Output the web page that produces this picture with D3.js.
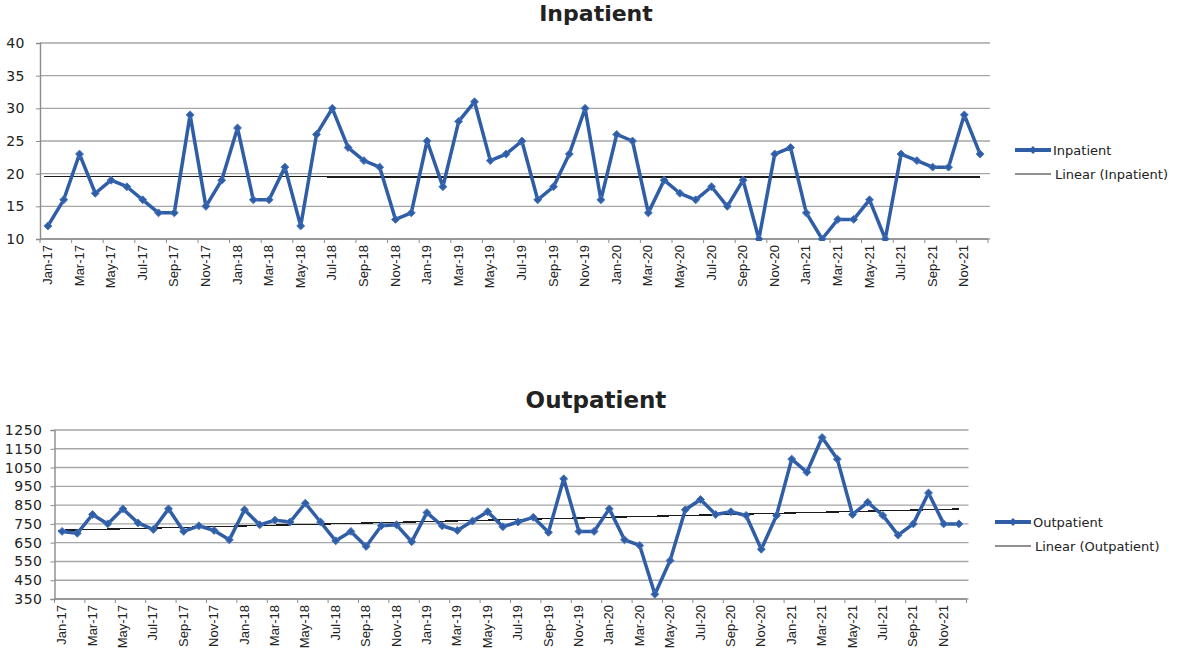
<!DOCTYPE html>
<html>
<head>
<meta charset="utf-8">
<script src="https://cdn.jsdelivr.net/npm/d3@7"></script>
<style>
  body { margin: 0; background: #fff; }
  svg text { fill: #222; }
  .tick-y { font-family: "DejaVu Sans", Verdana, sans-serif; font-size: 14px; letter-spacing: 0.5px; }
  .tick-x { font-family: "Liberation Sans Narrow", "Liberation Sans", Arial, sans-serif; font-size: 13px; }
  .title { font-family: "DejaVu Sans", Verdana, sans-serif; font-weight: bold; }
  .legend-text { font-family: "DejaVu Sans", Verdana, sans-serif; font-size: 13px; }
</style>
</head>
<body>
<div id="chart"></div>
<script>
// Months Jan-17 .. Dec-21
const monthNames = ["Jan", "Feb", "Mar", "Apr", "May", "Jun", "Jul", "Aug", "Sep", "Oct", "Nov", "Dec"];
const years = ["17", "18", "19", "20", "21"];
const months = [];
years.forEach((y) => monthNames.forEach((m) => months.push(`${m}-${y}`)));

const inpatient = [
  12, 16, 23, 17, 19, 18, 16, 14, 14, 29, 15, 19,
  27, 16, 16, 21, 12, 26, 30, 24, 22, 21, 13, 14,
  25, 18, 28, 31, 22, 23, 25, 16, 18, 23, 30, 16,
  26, 25, 14, 19, 17, 16, 18, 15, 19, 10, 23, 24,
  14, 10, 13, 13, 16, 10, 23, 22, 21, 21, 29, 23
];

const outpatient = [
  710, 700, 800, 750, 830, 755, 720, 830, 710, 740, 715, 665,
  825, 745, 770, 760, 860, 760, 660, 710, 630, 740, 745, 655,
  810, 740, 715, 765, 815, 735, 760, 785, 705, 990, 710, 710,
  830, 665, 635, 375, 555, 825, 880, 800, 815, 795, 615, 795,
  1095, 1025, 1210, 1095, 800, 865, 795, 690, 750, 915, 750, 750
];

const inpatientTicks = [10, 15, 20, 25, 30, 35, 40];
const outpatientTicks = [350, 450, 550, 650, 750, 850, 950, 1050, 1150, 1250];

const lineColor = "#2f5da6";

const svg = d3.select("#chart").append("svg")
  .attr("width", 1182)
  .attr("height", 650);

// least squares trend
function linearFit(values) {
  const n = values.length;
  const xs = d3.range(n);
  const mx = d3.mean(xs), my = d3.mean(values);
  let sxy = 0, sxx = 0;
  xs.forEach((x, i) => { sxy += (x - mx) * (values[i] - my); sxx += (x - mx) * (x - mx); });
  const b = sxy / sxx;
  const a = my - b * mx;
  return (i) => a + b * i;
}

function drawChart(opts) {
  const { title, values, ticks, left, right, top, bottom, titleY, titleSize, labelPad, legendX, legendY, name } = opts;

  const x = d3.scaleBand().domain(months).range([left, right]).padding(0);
  const y = d3.scaleLinear().domain([ticks[0], ticks[ticks.length - 1]]).range([bottom, top]);
  const cx = (m) => x(m) + x.bandwidth() / 2;

  const g = svg.append("g");

  // title
  g.append("text")
    .attr("class", "title")
    .attr("x", 596)
    .attr("y", titleY)
    .attr("text-anchor", "middle")
    .style("font-size", titleSize + "px")
    .text(title);

  // gridlines
  g.selectAll(".grid")
    .data(ticks)
    .enter()
    .append("line")
    .attr("x1", left)
    .attr("x2", right + 2)
    .attr("y1", (d) => y(d))
    .attr("y2", (d) => y(d))
    .attr("stroke", "#a6a6a6")
    .attr("stroke-width", 1.4);

  // y axis
  const yAxis = g.append("g")
    .attr("transform", `translate(${left},0)`)
    .call(d3.axisLeft(y).tickValues(ticks).tickFormat(d3.format("d")).tickSize(4).tickPadding(labelPad));
  yAxis.select(".domain").attr("stroke", "#8c8c8c").attr("stroke-width", 1.4);
  yAxis.selectAll(".tick line").attr("stroke", "#8c8c8c");
  yAxis.selectAll("text").attr("class", "tick-y").attr("fill", "#222");

  // x axis: ticks every 2 months at category boundaries, labels on categories
  const xg = g.append("g");
  xg.append("line")
    .attr("x1", left).attr("x2", right)
    .attr("y1", bottom).attr("y2", bottom)
    .attr("stroke", "#8c8c8c").attr("stroke-width", 1.4);
  const tickMonths = months.filter((d, i) => i % 2 === 0);
  xg.selectAll(".xt")
    .data(tickMonths.concat(["end"]))
    .enter()
    .append("line")
    .attr("x1", (d) => (d === "end" ? right : x(d)))
    .attr("x2", (d) => (d === "end" ? right : x(d)))
    .attr("y1", bottom)
    .attr("y2", bottom + 4)
    .attr("stroke", "#8c8c8c");
  xg.selectAll(".xl")
    .data(tickMonths)
    .enter()
    .append("text")
    .attr("class", "tick-x")
    .attr("transform", (d) => `translate(${cx(d) + 4},${bottom + 6}) rotate(-90)`)
    .attr("text-anchor", "end")
    .text((d) => d);

  // trend line
  const fit = linearFit(values);
  g.append("line")
    .attr("x1", cx(months[0]) - 4)
    .attr("x2", cx(months[months.length - 1]))
    .attr("y1", y(fit(0)))
    .attr("y2", y(fit(values.length - 1)))
    .attr("stroke", "#1a1a1a")
    .attr("stroke-width", 1.3)
    .attr("shape-rendering", "crispEdges");

  // series line
  const clipId = "clip-" + name;
  g.append("clipPath").attr("id", clipId)
    .append("rect")
    .attr("x", left).attr("y", top - 10)
    .attr("width", right - left + 10).attr("height", bottom - top + 12);

  const line = d3.line()
    .x((d, i) => cx(months[i]))
    .y((d) => y(d));

  const series = g.append("g").attr("clip-path", `url(#${clipId})`);
  series.append("path")
    .datum(values)
    .attr("d", line)
    .attr("fill", "none")
    .attr("stroke", lineColor)
    .attr("stroke-width", 3.5)
    .attr("stroke-linejoin", "round");

  series.selectAll(".pt")
    .data(values)
    .enter()
    .append("path")
    .attr("d", d3.symbol(d3.symbolDiamond2, 40))
    .attr("transform", (d, i) => `translate(${cx(months[i])},${y(d)})`)
    .attr("fill", lineColor)
    .attr("stroke", "#4a78c0")
    .attr("stroke-width", 1);

  // legend
  const lg = g.append("g").attr("transform", `translate(${legendX},${legendY})`);
  lg.append("line")
    .attr("x1", 0).attr("x2", 36).attr("y1", 0).attr("y2", 0)
    .attr("stroke", lineColor).attr("stroke-width", 4);
  lg.append("path")
    .attr("d", d3.symbol(d3.symbolDiamond2, 40))
    .attr("transform", "translate(18,0)")
    .attr("fill", lineColor);
  lg.append("text")
    .attr("class", "legend-text")
    .attr("x", 38).attr("y", 0).attr("dy", "0.35em")
    .text(name);
  lg.append("line")
    .attr("x1", 0).attr("x2", 36).attr("y1", 24).attr("y2", 24)
    .attr("stroke", "#222").attr("stroke-width", 1.2);
  lg.append("text")
    .attr("class", "legend-text")
    .attr("x", 40).attr("y", 24).attr("dy", "0.35em")
    .text(`Linear (${name})`);
}

drawChart({
  title: "Inpatient",
  name: "Inpatient",
  values: inpatient,
  ticks: inpatientTicks,
  left: 40, right: 988, top: 43, bottom: 239,
  titleY: 21, titleSize: 22, labelPad: 11,
  legendX: 1015, legendY: 150
});

drawChart({
  title: "Outpatient",
  name: "Outpatient",
  values: outpatient,
  ticks: outpatientTicks,
  left: 54.5, right: 966.5, top: 430, bottom: 599,
  titleY: 408, titleSize: 23, labelPad: 8,
  legendX: 995, legendY: 522
});
</script>
</body>
</html>
